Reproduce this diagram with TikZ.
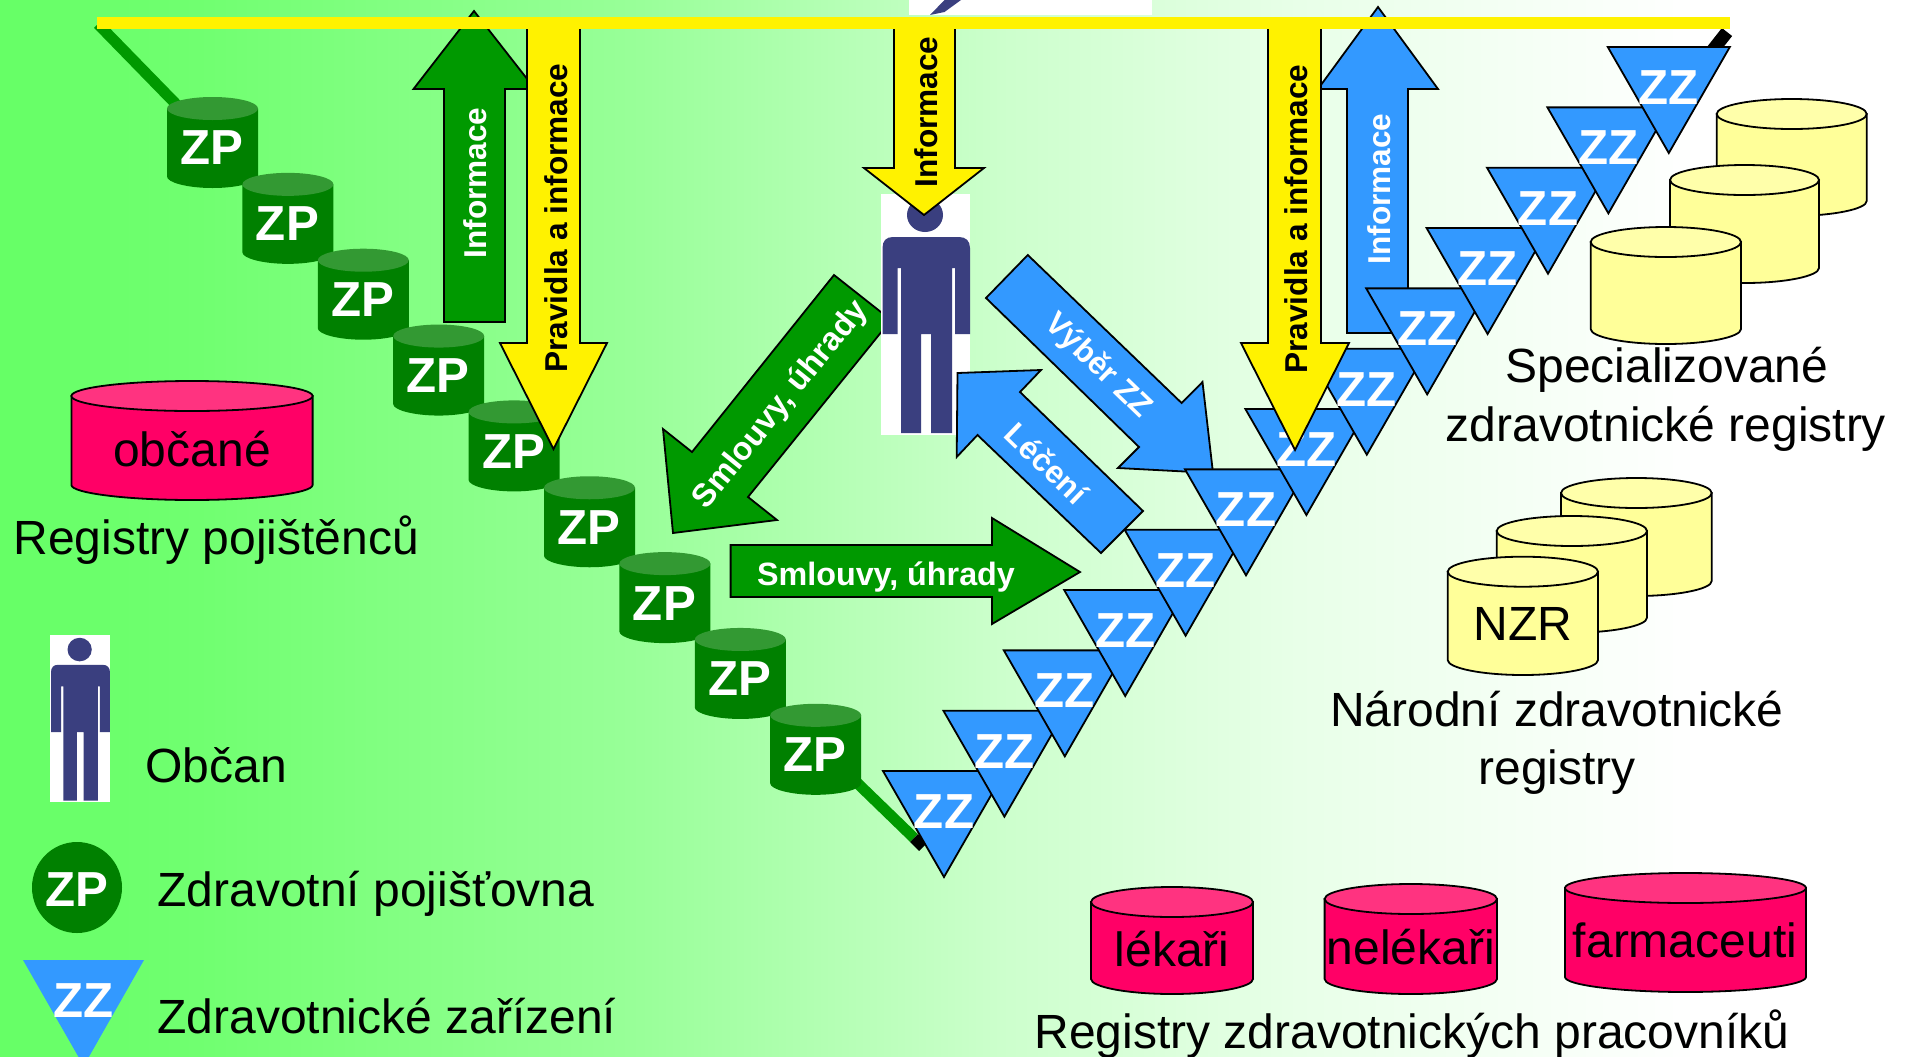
\documentclass[tikz,border=0pt]{standalone}
\usepackage{fontspec}
\setmainfont{Liberation Sans}
\definecolor{bgA}{HTML}{66FF66}
\definecolor{bgB}{HTML}{70FF70}
\definecolor{bgC}{HTML}{99FF99}
\definecolor{bgD}{HTML}{CCFFCC}
\definecolor{bgE}{HTML}{E8FFE8}
\definecolor{bgF}{HTML}{FFFFFF}
\definecolor{zpbody}{HTML}{008000}
\definecolor{zptop}{HTML}{339933}
\definecolor{arrgreen}{HTML}{009900}
\definecolor{zzblue}{HTML}{3399FF}
\definecolor{pinkbody}{HTML}{FF0066}
\definecolor{pinktop}{HTML}{FF3380}
\definecolor{yelbody}{HTML}{FFFF99}
\definecolor{yeltop}{HTML}{FFFFAA}
\definecolor{persona}{HTML}{3A3F7F}
\pgfdeclarehorizontalshading{bgshade}{100bp}{color(0bp)=(bgA); color(25bp)=(bgA); color(30.2bp)=(bgB); color(41.8bp)=(bgC); color(51.2bp)=(bgD); color(59bp)=(bgE); color(69.5bp)=(bgF); color(100bp)=(bgF)}
\newcommand\bigfont{\fontsize{24pt}{28pt}\selectfont}
\newcommand\zpfont{\fontsize{24.6pt}{28pt}\bfseries\selectfont}
\newcommand\midfont{\fontsize{16.15pt}{18pt}\bfseries\selectfont}
\newcommand\rotfont{\fontsize{15.8pt}{18pt}\bfseries\selectfont}
\newcommand\regcyl[7]{%
  \pgfmathsetmacro\cylcx{(#2+#3)/2}%
  \pgfmathsetmacro\cylrx{(#3-#2)/2}%
  \pgfmathsetmacro\cylkx{\cylrx*0.55}%
  \pgfmathsetmacro\cylmid{#4+15}%
  \pgfmathsetmacro\cylsb{#5-15}%
  \pgfmathsetmacro\cylcb{#5-7}%
  \coordinate (#1) at (\cylcx,\cylmid);
  \path[fill=#6,draw=#7,line width=0.9pt] (#2,\cylmid) -- (#2,\cylsb) .. controls (#2,\cylcb) and ({\cylcx-\cylkx},#5) .. (\cylcx,#5) .. controls ({\cylcx+\cylkx},#5) and (#3,\cylcb) .. (#3,\cylsb) -- (#3,\cylmid) -- cycle;
}
\newcommand\regtop[5]{%
  \pgfmathsetmacro\cylcx{(#1+#2)/2}%
  \pgfmathsetmacro\cylrx{(#2-#1)/2}%
  \pgfmathsetmacro\cylmid{#3+#5}%
  \path[fill=#4,draw=black,line width=0.9pt] (\cylcx,\cylmid) ellipse [x radius=\cylrx,y radius=#5];
}
\newcommand\pinkcyl[5]{\regcyl{#1}{#2}{#3}{#4}{#5}{pinkbody}{black}\regtop{#2}{#3}{#4}{pinktop}{15}}
\newcommand\yelcyl[5]{\regcyl{#1}{#2}{#3}{#4}{#5}{yelbody}{black}\regtop{#2}{#3}{#4}{yeltop}{15}}
\newcommand\manfig[2]{%
  \begin{scope}[shift={(#1)},#2]
    \fill[white] (0,0) rectangle (89,241);
    \fill[persona] (44,21) ellipse [x radius=18,y radius=17];
    \fill[persona] (1.5,140) -- (1.5,54) .. controls (1.5,47) and (5,43) .. (12,43) -- (78,43) .. controls (85,43) and (89,47) .. (89,54) -- (89,140) -- (74,140) -- (74,74) -- (71,74) -- (71,239) -- (50,239) -- (50,140) -- (40,140) -- (40,239) -- (20,239) -- (20,74) -- (16.5,74) -- (16.5,140) -- cycle;
  \end{scope}
}
\tikzset{
  outl/.style={draw=black,line width=0.9pt,line join=miter},
  bararrow/.style={outl,fill=#1},
  wlabel/.style={text=white,inner sep=0pt,font=\midfont},
  wrot/.style={text=white,inner sep=0pt,font=\rotfont},
  krot/.style={text=black,inner sep=0pt,font=\rotfont},
  biglabel/.style={text=black,inner sep=0pt,font=\bigfont,yshift=-0.6pt},
  zplabel/.style={text=white,inner sep=0pt,font=\zpfont},
  conn/.style={line width=5.5pt,line cap=butt},
}
\begin{document}
\begin{tikzpicture}[x=0.5pt,y=-0.5pt]
\useasboundingbox (0,0) rectangle (1908,1056);
\clip (0,0) rectangle (1908,1056);
\shade[shading=bgshade] (0,0) rectangle (1908,1056);
% fragment at the top edge
\fill[white] (909,0) rectangle (1152,15);
\fill[persona] (930,15) -- (944.5,0) -- (961,0) -- (944.5,12) -- cycle;
% named ends of the long line
\coordinate (barL) at (98,24);
\coordinate (zpA) at (212,141);
\coordinate (zpZ) at (818,745);
\coordinate (lowA) at (914,838);
\coordinate (lowB) at (923,847);
\coordinate (topA) at (1705,60);
\coordinate (topB) at (1727,32);
\draw[conn,draw=arrgreen] (barL) -- (zpA);
\draw[conn,draw=arrgreen] (zpZ) -- (lowA);
\draw[conn,draw=black] (lowA) -- (lowB);
\draw[conn,draw=black,line width=6.5pt] (topA) -- (topB);
% up arrows
\draw[bararrow=zzblue] (1378,7) -- (1438,89) -- (1408,89) -- (1408,333) -- (1347,333) -- (1347,89) -- (1318,89) -- cycle;
\node[wrot,rotate=90] (infoB) at (1379,189) {Informace};
\draw[bararrow=arrgreen] (474,11) -- (535,89) -- (505,89) -- (505,322) -- (444,322) -- (444,89) -- (413.5,89) -- cycle;
\node[wrot,rotate=90] (infoG) at (475,183) {Informace};
% ZP cylinders
\foreach \i in {1,...,9}{
  \pgfmathsetmacro\zx{212.5+75.4*(\i-1)}
  \pgfmathsetmacro\zy{97+75.85*(\i-1)}
  \pgfmathsetmacro\zl{\zx-45.5}
  \pgfmathsetmacro\zr{\zx+45.5}
  \pgfmathsetmacro\zm{\zy+11.5}
  \pgfmathsetmacro\zb{\zy+91}
  \pgfmathsetmacro\zs{\zb-11.5}
  \pgfmathsetmacro\zk{\zy+51}
  \pgfmathsetmacro\zt{\zx-0.5}
  \fill[zpbody] (\zl,\zm) -- (\zl,\zs) .. controls (\zl,{\zs+6}) and ({\zx-25},\zb) .. (\zx,\zb) .. controls ({\zx+25},\zb) and (\zr,{\zs+6}) .. (\zr,\zs) -- (\zr,\zm) -- cycle;
  \fill[zptop] (\zx,\zm) ellipse [x radius=45.5,y radius=11.5];
  \node[zplabel] (zp\i) at (\zt,\zk) {ZP};
}
% Výběr arrow
\draw[bararrow=zzblue] (1027.8,255) -- (1181.6,403) -- (1202.5,382) -- (1213,473) -- (1118,468) -- (1139,447) -- (986,298) -- cycle;
\node[wrot,rotate=-44] (vyber) at (1098,366) {Výběr ZZ};
% ZZ triangles
\foreach \i in {0,...,12}{
  \pgfmathsetmacro\tx{944+60.4*\i}
  \pgfmathsetmacro\ty{771-60.33*\i}
  \pgfmathsetmacro\tl{\tx-61}
  \pgfmathsetmacro\tr{\tx+61}
  \pgfmathsetmacro\tb{\ty+106}
  \pgfmathsetmacro\tk{\ty+40.5}
  \draw[bararrow=zzblue] (\tl,\ty) -- (\tr,\ty) -- (\tx,\tb) -- cycle;
  \node[zplabel] (zz\i) at (\tx,\tk) {ZZ};
}
% green contract arrows
\draw[bararrow=arrgreen] (730.6,545) -- (992,545) -- (992,518) -- (1080,572) -- (992,624) -- (992,597) -- (730.6,597) -- cycle;
\node[wlabel,anchor=base] (smlH) at (886,585) {Smlouvy, úhrady};
\draw[bararrow=arrgreen] (834,275) -- (891,320) -- (748,497) -- (777,520) -- (673,533) -- (663,429) -- (692,452) -- cycle;
\node[wlabel,rotate=51] (smlD) at (781,405) {Smlouvy, úhrady};
% citizen
\manfig{881,194}{}
% Léčení arrow
\draw[bararrow=zzblue] (957.5,373) -- (1041,370) -- (1020,392) -- (1143,511) -- (1101,553) -- (977.5,435) -- (956.7,457) -- cycle;
\node[wrot,rotate=-44] (leceni) at (1047,463) {Léčení};
% yellow arrows
\draw[bararrow=yellow] (527,20) -- (580,20) -- (580,343) -- (607,343) -- (553.5,449) -- (500,343) -- (527,343) -- cycle;
\node[krot,rotate=90] (pravL) at (556,218) {Pravidla a informace};
\draw[bararrow=yellow] (894,20) -- (955,20) -- (955,168) -- (984,168) -- (924,215) -- (864,168) -- (894,168) -- cycle;
\node[krot,rotate=90] (infoY) at (926,112) {Informace};
\draw[bararrow=yellow] (1268,20) -- (1321,20) -- (1321,343) -- (1349,343) -- (1295,450) -- (1241,343) -- (1268,343) -- cycle;
\node[krot,rotate=90] (pravR) at (1296,219) {Pravidla a informace};
% yellow bar
\fill[yellow] (97,16.5) rectangle (1730,28.5);
% registers left
\pinkcyl{cylObc}{71.4}{312.6}{381}{500}
\node[biglabel,anchor=base] (obc) at (192,465) {občané};
\node[biglabel,anchor=base west] (regP) at (13,553) {Registry pojištěnců};
% legend
\manfig{50,635}{xscale=0.674,yscale=0.693}
\node[biglabel,anchor=base west] (lObc) at (145,781) {Občan};
\fill[zpbody] (77,887.5) ellipse [x radius=45,y radius=45.5];
\node[zplabel] (lZP) at (76.5,890) {ZP};
\node[biglabel,anchor=base west] (lZPt) at (157,905) {Zdravotní pojišťovna};
\fill[zzblue] (23,960) -- (144,960) -- (83.7,1066) -- cycle;
\node[zplabel] (lZZ) at (83.7,1001) {ZZ};
\node[biglabel,anchor=base west] (lZZt) at (157,1032) {Zdravotnické zařízení};
% specialised registers
\yelcyl{s3}{1716.7}{1866.7}{99}{216}
\yelcyl{s2}{1670}{1819}{165}{283}
\yelcyl{s1}{1590.7}{1741}{227}{344}
\node[biglabel,anchor=base] (spec1) at (1667,381) {Specializované};
\node[biglabel,anchor=base] (spec2) at (1666,440) {zdravotnické registry};
% national registers
\yelcyl{n3}{1561}{1711.7}{478}{596}
\yelcyl{n2}{1496.7}{1647}{516}{632.7}
\yelcyl{n1}{1447.7}{1598}{556.7}{675}
\node[biglabel,anchor=base] (nzr) at (1523,639) {NZR};
\node[biglabel,anchor=base] (nar1) at (1557,725) {Národní zdravotnické};
\node[biglabel,anchor=base] (nar2) at (1557,783) {registry};
% staff registers
\pinkcyl{p1}{1091}{1253}{887}{994}
\node[biglabel,anchor=base] (lek) at (1172,965) {lékaři};
\pinkcyl{p2}{1324.6}{1497}{884}{994}
\node[biglabel,anchor=base] (nel) at (1410.7,963) {nelékaři};
\pinkcyl{p3}{1565}{1806}{873}{992}
\node[biglabel,anchor=base] (far) at (1685,956) {farmaceuti};
\node[biglabel,anchor=base] (regZ) at (1412,1047) {Registry zdravotnických pracovníků};
\end{tikzpicture}
\end{document}
